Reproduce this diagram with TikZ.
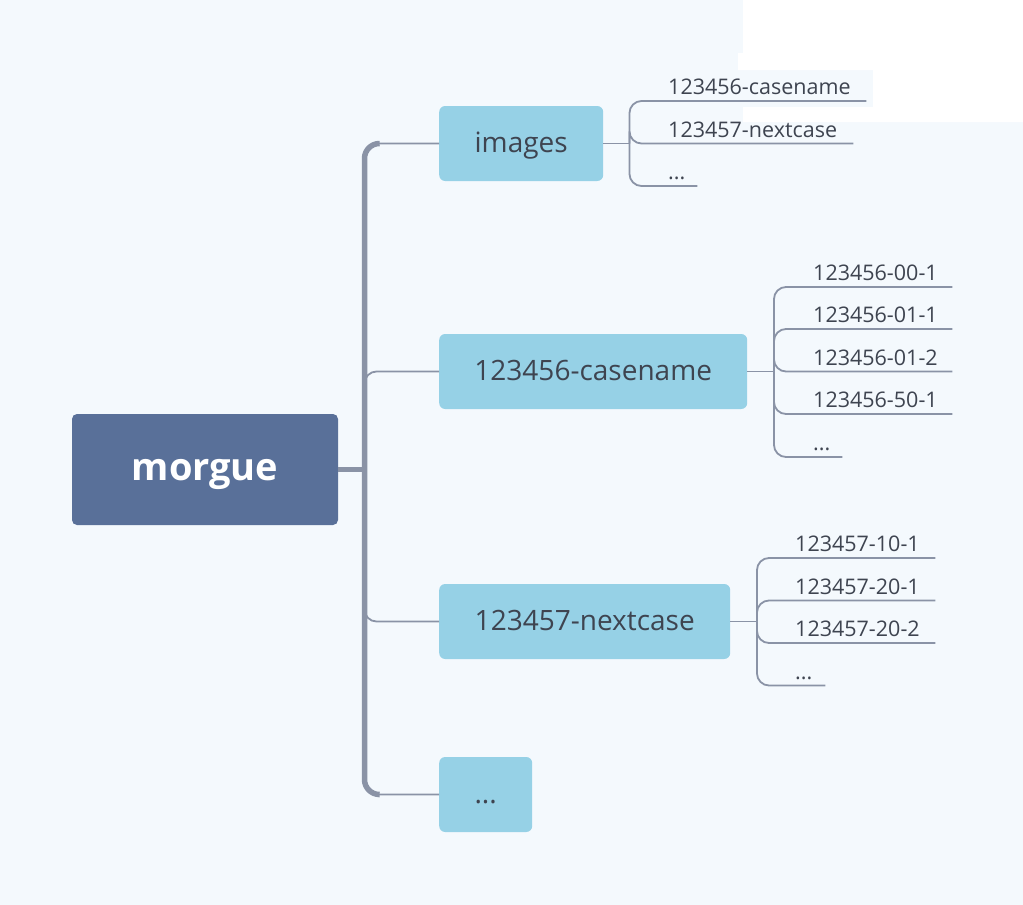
\documentclass[tikz,border=0pt]{standalone}
\usepackage{fontspec}
\setmainfont{Open Sans}
\usetikzlibrary{calc,positioning}
\definecolor{bgblue}{RGB}{244,249,253}
\definecolor{rootblue}{RGB}{89,112,153}
\definecolor{boxblue}{RGB}{150,209,230}
\definecolor{linegray}{RGB}{138,147,166}
\definecolor{textgray}{RGB}{62,68,80}
\tikzset{
    root_block/.style={rectangle, rounded corners=5pt, fill=rootblue, text=white, minimum width=266pt, minimum height=111pt, text depth=0pt, font=\fontsize{38}{40}\selectfont\bfseries},
    block/.style={rectangle, rounded corners=6pt, fill=boxblue, text=textgray, anchor=west, minimum height=75pt, inner xsep=0pt, text height=22pt, text depth=5pt, font=\fontsize{28}{30}\selectfont},
    leaf/.style={anchor=south west, inner xsep=0pt, inner ysep=6pt, align=left, text=textgray, font=\fontsize{21.5}{24}\selectfont},
    line/.style={draw=linegray, line width=1.8pt, rounded corners=12pt},
    trunk/.style={draw=linegray, line width=5.5pt, rounded corners=15pt},
}
\begin{document}
\begin{tikzpicture}
        [x=1pt, y=-1pt]

        % Canvas
        \useasboundingbox (0,0) rectangle (1023,905);
        \fill[bgblue] (0,0) rectangle (1023,905);
        \fill[white] (743,0) -- (1023,0) -- (1023,122) -- (743,122) -- (743,107) -- (873,107)
            -- (873,70) -- (738,70) -- (738,53) -- (743,53) -- cycle;

        % Root and first level
        \node[root_block] (morgue) at (205,469.5) {morgue};
        \node[block, minimum width=164pt] (images) at (439,143.5) {images};
        \node[block, minimum width=308pt] (casename) at (439,371.5) {123456-casename};
        \node[block, minimum width=291pt] (nextcase) at (439,621.5) {123457-nextcase};
        \node[block, minimum width=93pt] (more) at (439,794.5) {...};

        % Hubs
        \coordinate (hub) at (364.5,469.5);
        \coordinate (images_hub) at (629.5,143.5);
        \coordinate (casename_hub) at (774,371.5);
        \coordinate (nextcase_hub) at (757,621.5);

        % Leaves of images
        \node[leaf, text width=198pt] (img_a) at (668,101) {123456-casename};
        \node[leaf, text width=185pt] (img_b) at (668,143.5) {123457-nextcase};
        \node[leaf, text width=29pt] (img_c) at (668,186) {...};

        % Leaves of 123456-casename
        \node[leaf, text width=139pt] (cn_a) at (813,287) {123456-00-1};
        \node[leaf, text width=139pt] (cn_b) at (813,329) {123456-01-1};
        \node[leaf, text width=139pt] (cn_c) at (813,371.5) {123456-01-2};
        \node[leaf, text width=139pt] (cn_d) at (813,414) {123456-50-1};
        \node[leaf, text width=29pt] (cn_e) at (813,457) {...};

        % Leaves of 123457-nextcase
        \node[leaf, text width=140pt] (nc_a) at (795,558) {123457-10-1};
        \node[leaf, text width=140pt] (nc_b) at (795,600.5) {123457-20-1};
        \node[leaf, text width=140pt] (nc_c) at (795,643) {123457-20-2};
        \node[leaf, text width=30pt] (nc_d) at (795,685.5) {...};

        % Trunk
        \draw[trunk] (morgue.east) -- (hub);
        \draw[trunk] ($(hub |- images.west)+(14,0)$) -| (hub) |- ($(hub |- more.west)+(14,0)$);
        \foreach \c in {images, casename, nextcase, more}
            \draw[line] (hub) |- (\c.west);

        % Branches to leaves
        \draw[line] (images.east) -- (images_hub);
        \foreach \l in {img_a, img_b, img_c}
            \draw[line] (images_hub) |- (\l.south east);
        \draw[line] (casename.east) -- (casename_hub);
        \foreach \l in {cn_a, cn_b, cn_c, cn_d, cn_e}
            \draw[line] (casename_hub) |- (\l.south east);
        \draw[line] (nextcase.east) -- (nextcase_hub);
        \foreach \l in {nc_a, nc_b, nc_c, nc_d}
            \draw[line] (nextcase_hub) |- (\l.south east);
    \end{tikzpicture}
\end{document}
